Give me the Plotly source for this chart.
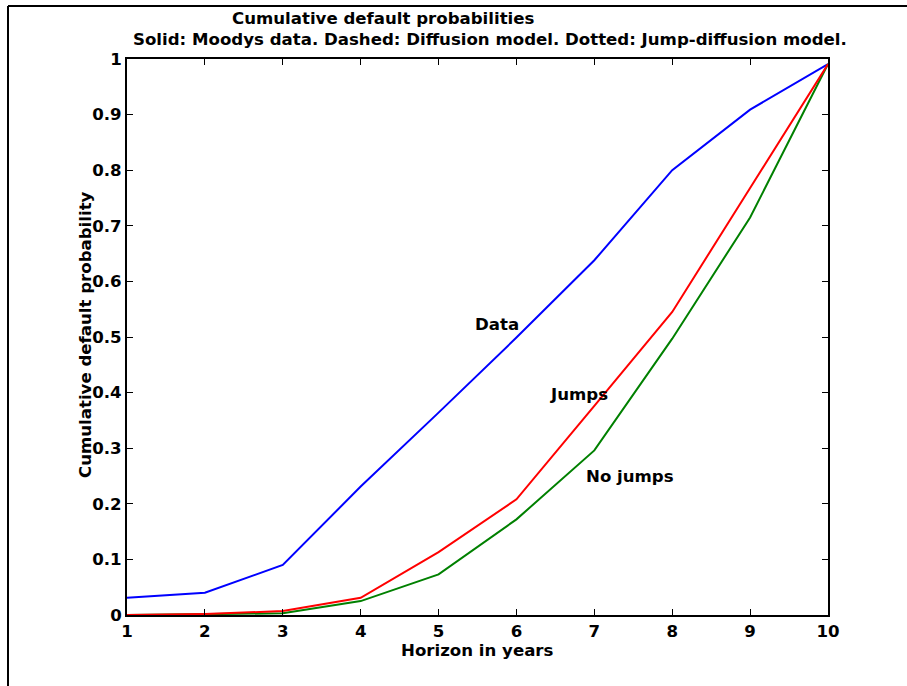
import plotly.graph_objects as go

years = [1, 2, 3, 4, 5, 6, 7, 8, 9, 10]
data_moodys = [0.031, 0.040, 0.090, 0.231, 0.364, 0.499, 0.638, 0.800, 0.909, 0.991]
jumps = [0.000, 0.002, 0.007, 0.031, 0.113, 0.208, 0.376, 0.545, 0.768, 0.991]
no_jumps = [0.000, 0.001, 0.003, 0.025, 0.073, 0.172, 0.296, 0.497, 0.715, 0.991]

x_ticks = [1, 2, 3, 4, 5, 6, 7, 8, 9, 10]
y_ticks = [0, 0.1, 0.2, 0.3, 0.4, 0.5, 0.6, 0.7, 0.8, 0.9, 1]
y_tick_labels = ["0", "0.1", "0.2", "0.3", "0.4", "0.5", "0.6", "0.7", "0.8", "0.9", "1"]

title_line1 = "Cumulative default probabilities"
title_line2 = "Solid: Moodys data. Dashed: Diffusion model. Dotted: Jump-diffusion model."
x_title = "Horizon in years"
y_title = "Cumulative default probability"

FONT = "DejaVu Sans, Liberation Sans, sans-serif"

fig = go.Figure()
fig.add_trace(go.Scatter(x=years, y=data_moodys, mode="lines",
                         line=dict(color="#0000FF", width=2), name="Data"))
fig.add_trace(go.Scatter(x=years, y=no_jumps, mode="lines",
                         line=dict(color="#008000", width=2), name="No jumps"))
fig.add_trace(go.Scatter(x=years, y=jumps, mode="lines",
                         line=dict(color="#FF0000", width=2), name="Jumps"))

W, H = 907, 686
L, R, T, B = 127, 828, 59, 615
pw, ph = R - L, B - T

def px(x):
    return (x - L) / pw

def py(y):
    return (B - y) / ph

bold = dict(family=FONT, size=16.6, color="black", weight="bold")

annotations = [
    dict(text=title_line1, x=px(383), y=py(18), xref="paper", yref="paper",
         xanchor="center", yanchor="middle", showarrow=False, font=bold),
    dict(text=title_line2, x=px(490), y=py(40), xref="paper", yref="paper",
         xanchor="center", yanchor="middle", showarrow=False, font=bold),
    dict(text=x_title, x=px(477), y=py(650), xref="paper", yref="paper",
         xanchor="center", yanchor="middle", showarrow=False, font=bold),
    dict(text=y_title, x=px(85), y=py(335), xref="paper", yref="paper",
         xanchor="center", yanchor="middle", showarrow=False, font=bold, textangle=-90),
    dict(text="Data", x=5.75, y=0.522, xref="x", yref="y", showarrow=False,
         xanchor="center", yanchor="middle", font=bold),
    dict(text="Jumps", x=6.80, y=0.396, xref="x", yref="y", showarrow=False,
         xanchor="center", yanchor="middle", font=bold),
    dict(text="No jumps", x=7.46, y=0.250, xref="x", yref="y", showarrow=False,
         xanchor="center", yanchor="middle", font=bold),
]

shapes = [
    dict(type="line", xref="paper", yref="paper", x0=px(8), x1=px(907), y0=py(6), y1=py(6),
         line=dict(color="black", width=2)),
    dict(type="line", xref="paper", yref="paper", x0=px(8), x1=px(8), y0=py(6), y1=py(686),
         line=dict(color="black", width=2)),
]

axis_common = dict(showgrid=False, zeroline=False, showline=True, linecolor="black",
                   linewidth=2, mirror="ticks", ticks="inside", ticklen=6, tickwidth=1,
                   tickcolor="black", tickfont=bold)

fig.update_layout(
    width=W, height=H,
    margin=dict(l=L, r=W - R, t=T, b=H - B, pad=0),
    paper_bgcolor="white", plot_bgcolor="white",
    showlegend=False,
    xaxis=dict(range=[1, 10], tickvals=x_ticks, **axis_common),
    yaxis=dict(range=[0, 1], tickvals=y_ticks, ticktext=y_tick_labels,
               ticklabelstandoff=0, **axis_common),
    annotations=annotations,
    shapes=shapes,
)

fig.write_html("out.html")
